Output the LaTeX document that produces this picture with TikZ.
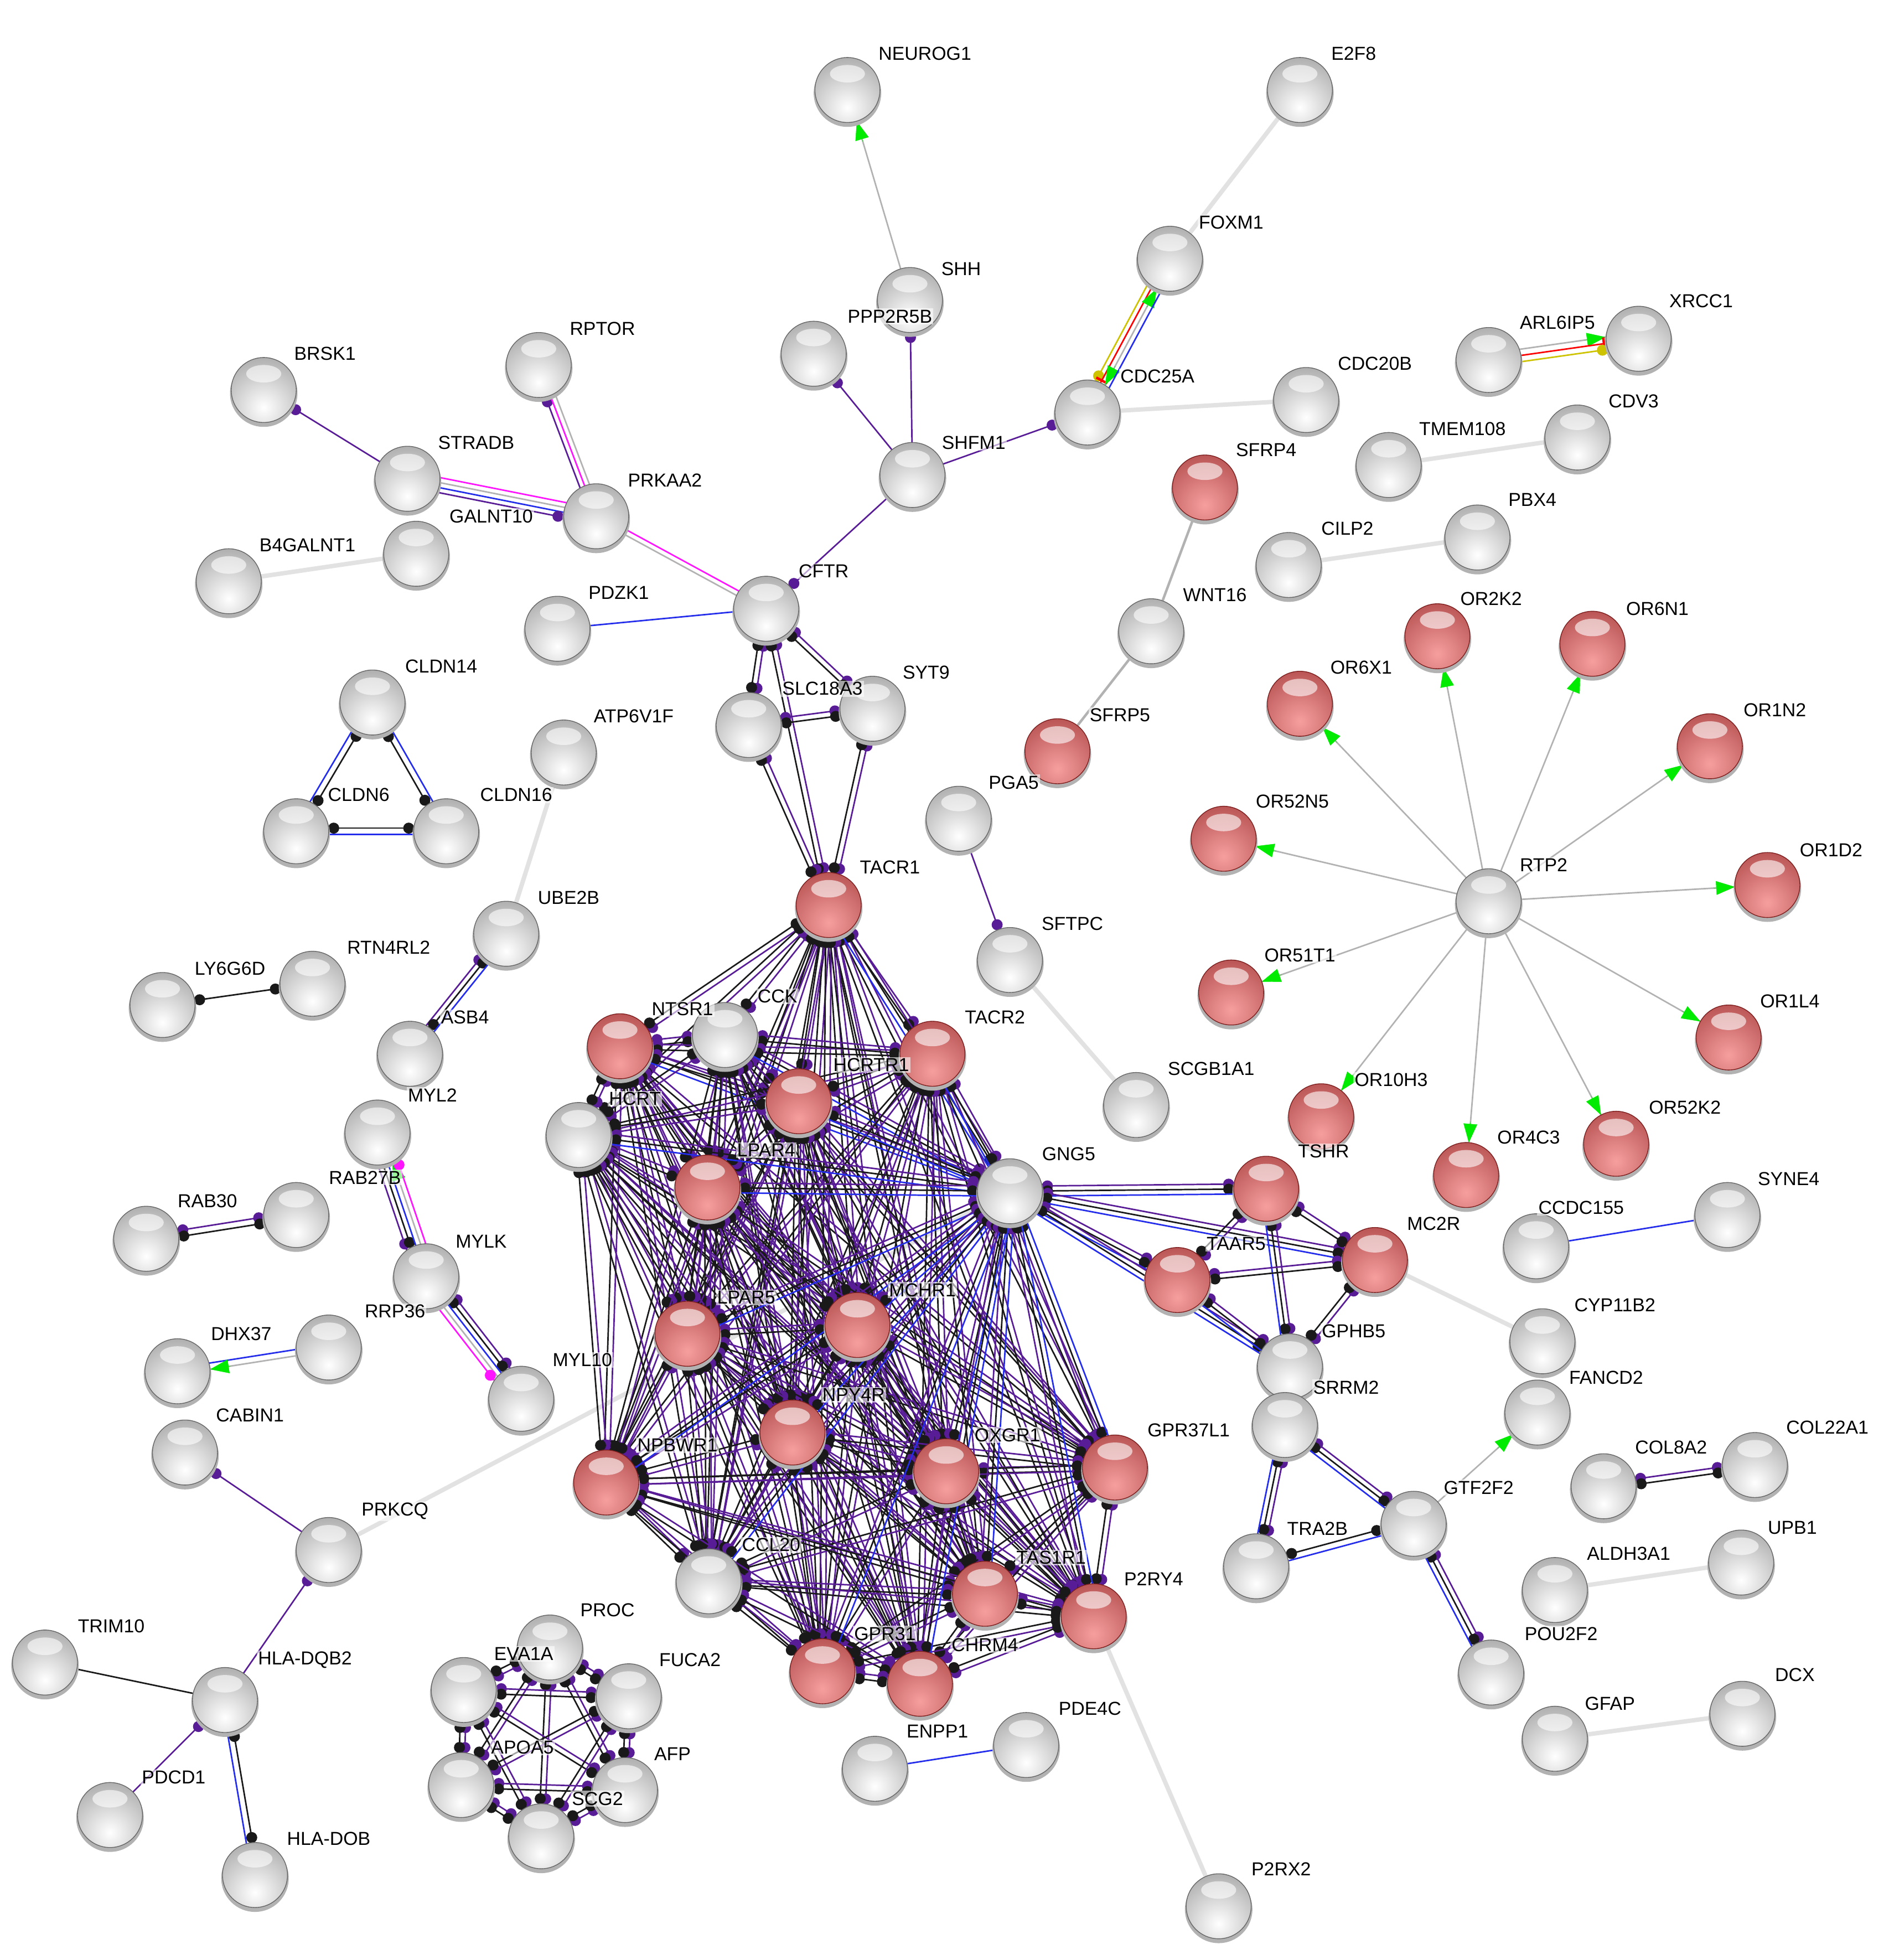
\documentclass[tikz,border=0pt]{standalone}
\usepackage{fontspec}
\setmainfont{Liberation Sans}
\usetikzlibrary{calc,arrows.meta}
\definecolor{cP}{RGB}{88,28,150}
\definecolor{cK}{RGB}{25,25,25}
\definecolor{cB}{RGB}{35,45,235}
\definecolor{cM}{RGB}{255,20,255}
\definecolor{cG}{RGB}{178,178,178}
\definecolor{cL}{RGB}{226,226,226}
\definecolor{cY}{RGB}{205,195,0}
\definecolor{cR}{RGB}{255,0,0}
\definecolor{cGr}{RGB}{0,235,0}
\definecolor{rA}{RGB}{246,158,158}
\definecolor{rF}{RGB}{150,42,42}
\definecolor{rE}{RGB}{125,30,30}
\pgfdeclarelayer{back}
\pgfdeclarelayer{bg}
\pgfdeclarelayer{fg}
\pgfsetlayers{back,bg,main,fg}
\tikzset{
  ball/.style n args={3}{circle, minimum size=52pt, inner sep=0pt, draw=#3, line width=0.6pt, fill=white,
    path picture={\shade[inner color=#1, outer color=#2] ([yshift=-14pt]path picture bounding box.center) circle (64pt);
      \fill[white,opacity=0.6] ([yshift=13pt]path picture bounding box.center) ellipse [x radius=14pt, y radius=7pt];}},
  gball/.style={ball={white}{black!50}{black!60}},
  rball/.style={ball={rA}{rF}{rE}},
  lbl/.style={inner sep=1pt, fill=white, fill opacity=0.6, text opacity=1, font=\fontsize{15}{15}\selectfont}
}
\newcommand\N[7]{\fill[black!30] (#2,#3+2.5) circle (27pt);\node[#4] (#1) at (#2,#3) {};\begin{pgfonlayer}{fg}\node[lbl] (l#1) at (#5,#6) {#7};\end{pgfonlayer}}
\newcommand\mNo[3]{}
\newcommand\mDot[3]{\fill[#3] ($(#1)!30pt!(#2)$) circle (4.4pt);}
\newcommand\mArr[3]{\draw[cGr, line width=0.2pt, -{Triangle[length=15pt,width=11pt]}] ($(#1)!43pt!(#2)$) -- ($(#1)!26pt!(#2)$);}
\newcommand\mBar[3]{\path ($(#1)!28pt!(#2)$) coordinate (mq); \draw[cR, line width=2pt] ($(mq)!5pt!90:(#2)$) -- ($(mq)!5pt!-90:(#2)$);}
\newcommand\Ln[6]{\path ($(#1)!#3pt!90:(#2)$) coordinate (pa) ($(#2)!#3pt!-90:(#1)$) coordinate (pb);
  \draw[#4, line width=1.2pt] (pa) -- (pb); #5{pa}{pb}{#4}#6{pb}{pa}{#4}}
\newcommand\PK[2]{\Ln{#1}{#2}{2.2}{cP}{\mDot}{\mDot}\Ln{#1}{#2}{-2.2}{cK}{\mDot}{\mDot}}
\newcommand\PKB[2]{\Ln{#1}{#2}{4}{cP}{\mDot}{\mDot}\Ln{#1}{#2}{0}{cK}{\mDot}{\mDot}\Ln{#1}{#2}{-4}{cB}{\mNo}{\mNo}}
\newcommand\LG[2]{\draw[cL, line width=3.5pt] (#1) -- (#2);}
\begin{document}
\begin{tikzpicture}[x=1pt,y=-1pt]
\begin{pgfonlayer}{back}
\fill[white] (0,0) rectangle (1515,1568);
\end{pgfonlayer}
\useasboundingbox (0,0) rectangle (1515,1568);
% nodes
\N{NEUROG1}{678}{72}{gball}{740}{43}{NEUROG1}
\N{E2F8}{1040}{72}{gball}{1083}{43}{E2F8}
\N{FOXM1}{936}{207}{gball}{985}{178}{FOXM1}
\N{SHH}{728}{240}{gball}{769}{215}{SHH}
\N{PPP2R5B}{651}{283}{gball}{712}{253}{PPP2R5B}
\N{RPTOR}{431}{292}{gball}{482}{263}{RPTOR}
\N{BRSK1}{211}{312}{gball}{260}{283}{BRSK1}
\N{CDC25A}{870}{330}{gball}{926}{301}{CDC25A}
\N{CDC20B}{1045}{320}{gball}{1100}{291}{CDC20B}
\N{ARL6IP5}{1191}{288}{gball}{1246}{258}{ARL6IP5}
\N{XRCC1}{1311}{271}{gball}{1361}{241}{XRCC1}
\N{CDV3}{1262}{350}{gball}{1307}{321}{CDV3}
\N{TMEM108}{1111}{372}{gball}{1170}{343}{TMEM108}
\N{SHFM1}{730}{380}{gball}{779}{354}{SHFM1}
\N{STRADB}{326}{383}{gball}{381}{354}{STRADB}
\N{PRKAA2}{477}{413}{gball}{532}{384}{PRKAA2}
\N{GALNT10}{333}{443}{gball}{393}{413}{GALNT10}
\N{B4GALNT1}{183}{465}{gball}{246}{436}{B4GALNT1}
\N{SFRP4}{964}{390}{rball}{1013}{360}{SFRP4}
\N{PBX4}{1182}{430}{gball}{1226}{400}{PBX4}
\N{CILP2}{1031}{452}{gball}{1078}{423}{CILP2}
\N{CFTR}{613}{487}{gball}{659}{457}{CFTR}
\N{PDZK1}{446}{503}{gball}{495}{474}{PDZK1}
\N{WNT16}{921}{505}{gball}{972}{476}{WNT16}
\N{OR2K2}{1150}{509}{rball}{1193}{479}{OR2K2}
\N{OR6N1}{1274}{515}{rball}{1326}{487}{OR6N1}
\N{OR6X1}{1040}{563}{rball}{1089}{534}{OR6X1}
\N{CLDN14}{298}{562}{gball}{353}{533}{CLDN14}
\N{SYT9}{698}{567}{gball}{741}{538}{SYT9}
\N{SLC18A3}{599}{580}{gball}{658}{551}{SLC18A3}
\N{ATP6V1F}{451}{602}{gball}{507}{573}{ATP6V1F}
\N{SFRP5}{846}{601}{rball}{896}{572}{SFRP5}
\N{OR1N2}{1368}{597}{rball}{1420}{568}{OR1N2}
\N{CLDN6}{237}{665}{gball}{287}{636}{CLDN6}
\N{CLDN16}{357}{665}{gball}{413}{636}{CLDN16}
\N{PGA5}{767}{655}{gball}{811}{626}{PGA5}
\N{OR52N5}{979}{671}{rball}{1034}{641}{OR52N5}
\N{RTP2}{1191}{721}{gball}{1235}{692}{RTP2}
\N{OR1D2}{1414}{708}{rball}{1465}{680}{OR1D2}
\N{TACR1}{663}{724}{rball}{712}{694}{TACR1}
\N{UBE2B}{405}{747}{gball}{455}{718}{UBE2B}
\N{RTN4RL2}{250}{787}{gball}{311}{758}{RTN4RL2}
\N{LY6G6D}{130}{804}{gball}{184}{775}{LY6G6D}
\N{SFTPC}{808}{768}{gball}{858}{739}{SFTPC}
\N{OR51T1}{985}{794}{rball}{1040}{764}{OR51T1}
\N{OR1L4}{1383}{830}{rball}{1432}{801}{OR1L4}
\N{ASB4}{328}{843}{gball}{372}{814}{ASB4}
\N{NTSR1}{496}{837}{rball}{546}{807}{NTSR1}
\N{CCK}{580}{828}{gball}{622}{797}{CCK}
\N{TACR2}{746}{843}{rball}{796}{814}{TACR2}
\N{HCRTR1}{639}{881}{rball}{697}{852}{HCRTR1}
\N{MYL2}{302}{906}{gball}{346}{876}{MYL2}
\N{HCRT}{463}{908}{gball}{508}{879}{HCRT}
\N{SCGB1A1}{909}{884}{gball}{969}{855}{SCGB1A1}
\N{OR10H3}{1057}{893}{rball}{1113}{864}{OR10H3}
\N{OR52K2}{1293}{915}{rball}{1348}{886}{OR52K2}
\N{OR4C3}{1173}{940}{rball}{1223}{910}{OR4C3}
\N{LPAR4}{566}{950}{rball}{613}{920}{LPAR4}
\N{GNG5}{808}{953}{gball}{855}{923}{GNG5}
\N{TSHR}{1013}{951}{rball}{1059}{921}{TSHR}
\N{RAB27B}{237}{972}{gball}{292}{942}{RAB27B}
\N{RAB30}{117}{991}{gball}{166}{961}{RAB30}
\N{SYNE4}{1382}{972}{gball}{1431}{943}{SYNE4}
\N{CCDC155}{1229}{997}{gball}{1265}{966}{CCDC155}
\N{TAAR5}{942}{1024}{rball}{989}{995}{TAAR5}
\N{MC2R}{1100}{1008}{rball}{1147}{979}{MC2R}
\N{MYLK}{341}{1021}{gball}{385}{993}{MYLK}
\N{LPAR5}{550}{1067}{rball}{597}{1038}{LPAR5}
\N{MCHR1}{686}{1060}{rball}{738}{1032}{MCHR1}
\N{CYP11B2}{1234}{1073}{gball}{1292}{1044}{CYP11B2}
\N{RRP36}{263}{1078}{gball}{316}{1049}{RRP36}
\N{DHX37}{142}{1097}{gball}{193}{1067}{DHX37}
\N{GPHB5}{1032}{1093}{gball}{1083}{1065}{GPHB5}
\N{MYL10}{417}{1119}{gball}{466}{1088}{MYL10}
\N{FANCD2}{1230}{1130}{gball}{1285}{1102}{FANCD2}
\N{SRRM2}{1028}{1140}{gball}{1077}{1110}{SRRM2}
\N{NPY4R}{634}{1146}{rball}{683}{1116}{NPY4R}
\N{CABIN1}{148}{1162}{gball}{200}{1132}{CABIN1}
\N{GPR37L1}{892}{1174}{rball}{951}{1144}{GPR37L1}
\N{COL22A1}{1404}{1172}{gball}{1462}{1142}{COL22A1}
\N{OXGR1}{757}{1177}{rball}{806}{1148}{OXGR1}
\N{NPBWR1}{485}{1186}{rball}{542}{1156}{NPBWR1}
\N{COL8A2}{1283}{1189}{gball}{1337}{1158}{COL8A2}
\N{GTF2F2}{1131}{1219}{gball}{1183}{1190}{GTF2F2}
\N{PRKCQ}{263}{1240}{gball}{316}{1209}{PRKCQ}
\N{UPB1}{1393}{1250}{gball}{1434}{1222}{UPB1}
\N{TRA2B}{1005}{1253}{gball}{1054}{1223}{TRA2B}
\N{CCL20}{567}{1265}{gball}{617}{1236}{CCL20}
\N{ALDH3A1}{1244}{1272}{gball}{1303}{1243}{ALDH3A1}
\N{TAS1R1}{788}{1275}{rball}{841}{1246}{TAS1R1}
\N{P2RY4}{875}{1293}{rball}{923}{1263}{P2RY4}
\N{GPR31}{658}{1337}{rball}{708}{1307}{GPR31}
\N{CHRM4}{736}{1347}{rball}{788}{1316}{CHRM4}
\N{POU2F2}{1193}{1338}{gball}{1249}{1307}{POU2F2}
\N{PROC}{440}{1318}{gball}{486}{1288}{PROC}
\N{TRIM10}{36}{1330}{gball}{89}{1301}{TRIM10}
\N{EVA1A}{371}{1352}{gball}{419}{1323}{EVA1A}
\N{FUCA2}{503}{1357}{gball}{552}{1328}{FUCA2}
\N{HLADQB2}{180}{1360}{gball}{244}{1328}{HLA-DQB2}
\N{DCX}{1394}{1371}{gball}{1436}{1340}{DCX}
\N{GFAP}{1244}{1391}{gball}{1288}{1363}{GFAP}
\N{PDE4C}{821}{1396}{gball}{872}{1367}{PDE4C}
\N{ENPP1}{700}{1415}{gball}{750}{1385}{ENPP1}
\N{APOA5}{369}{1428}{gball}{418}{1398}{APOA5}
\N{AFP}{500}{1432}{gball}{538}{1403}{AFP}
\N{PDCD1}{88}{1452}{gball}{139}{1422}{PDCD1}
\N{SCG2}{433}{1469}{gball}{478}{1439}{SCG2}
\N{HLADOB}{204}{1500}{gball}{263}{1471}{HLA-DOB}
\N{P2RX2}{975}{1525}{gball}{1025}{1495}{P2RX2}
% edges
\begin{pgfonlayer}{bg}
\LG{E2F8}{FOXM1}\LG{CDC25A}{CDC20B}\LG{TMEM108}{CDV3}\LG{CILP2}{PBX4}
\LG{B4GALNT1}{GALNT10}\LG{UBE2B}{ATP6V1F}\LG{PRKCQ}{GNG5}\LG{SFTPC}{SCGB1A1}
\LG{P2RY4}{P2RX2}\LG{MC2R}{CYP11B2}\LG{ALDH3A1}{UPB1}\LG{GFAP}{DCX}
\draw[cG, line width=2pt] (SFRP4) -- (WNT16) -- (SFRP5);
\Ln{SHH}{NEUROG1}{0}{cG}{\mNo}{\mArr}
\Ln{FOXM1}{CDC25A}{-6}{cY}{\mNo}{\mDot}
\Ln{FOXM1}{CDC25A}{-2}{cR}{\mNo}{\mBar}
\Ln{FOXM1}{CDC25A}{2}{cG}{\mArr}{\mArr}
\Ln{FOXM1}{CDC25A}{6}{cB}{\mNo}{\mNo}
\Ln{SHFM1}{CDC25A}{0}{cP}{\mNo}{\mDot}
\Ln{SHFM1}{SHH}{0}{cP}{\mNo}{\mDot}
\Ln{SHFM1}{PPP2R5B}{0}{cP}{\mNo}{\mDot}
\Ln{SHFM1}{CFTR}{0}{cP}{\mNo}{\mDot}
\Ln{ARL6IP5}{XRCC1}{5}{cG}{\mNo}{\mArr}
\Ln{ARL6IP5}{XRCC1}{0}{cR}{\mNo}{\mBar}
\Ln{ARL6IP5}{XRCC1}{-5}{cY}{\mNo}{\mDot}
\foreach \o in {OR2K2,OR6N1,OR6X1,OR1N2,OR52N5,OR1D2,OR51T1,OR1L4,OR10H3,OR4C3,OR52K2}{\Ln{RTP2}{\o}{0}{cG}{\mNo}{\mArr}}
\Ln{STRADB}{BRSK1}{0}{cP}{\mNo}{\mDot}
\Ln{STRADB}{PRKAA2}{6}{cM}{\mNo}{\mNo}
\Ln{STRADB}{PRKAA2}{2}{cG}{\mNo}{\mNo}
\Ln{STRADB}{PRKAA2}{-2}{cB}{\mNo}{\mNo}
\Ln{STRADB}{PRKAA2}{-6}{cP}{\mNo}{\mDot}
\Ln{RPTOR}{PRKAA2}{-4}{cP}{\mDot}{\mNo}
\Ln{RPTOR}{PRKAA2}{0}{cM}{\mNo}{\mNo}
\Ln{RPTOR}{PRKAA2}{4}{cG}{\mNo}{\mNo}
\Ln{PRKAA2}{CFTR}{2}{cM}{\mNo}{\mNo}
\Ln{PRKAA2}{CFTR}{-2}{cG}{\mNo}{\mNo}
\Ln{PDZK1}{CFTR}{0}{cB}{\mNo}{\mNo}
\PK{CFTR}{SLC18A3}\PK{CFTR}{TACR1}\PK{CFTR}{SYT9}\PK{SLC18A3}{SYT9}\PK{SLC18A3}{TACR1}\PK{SYT9}{TACR1}
\Ln{CLDN6}{CLDN16}{-2.5}{cB}{\mNo}{\mNo}\Ln{CLDN6}{CLDN16}{2.5}{cK}{\mDot}{\mDot}
\Ln{CLDN14}{CLDN6}{-2.5}{cB}{\mNo}{\mNo}\Ln{CLDN14}{CLDN6}{2.5}{cK}{\mDot}{\mDot}
\Ln{CLDN14}{CLDN16}{2.5}{cB}{\mNo}{\mNo}\Ln{CLDN14}{CLDN16}{-2.5}{cK}{\mDot}{\mDot}
\Ln{UBE2B}{ASB4}{-4}{cP}{\mDot}{\mNo}
\Ln{UBE2B}{ASB4}{0}{cK}{\mDot}{\mDot}
\Ln{UBE2B}{ASB4}{4}{cB}{\mNo}{\mNo}
\Ln{LY6G6D}{RTN4RL2}{0}{cK}{\mDot}{\mDot}
\Ln{RAB30}{RAB27B}{2.5}{cP}{\mDot}{\mDot}\Ln{RAB30}{RAB27B}{-2.5}{cK}{\mDot}{\mDot}
\Ln{MYL2}{MYLK}{-8}{cP}{\mNo}{\mDot}
\Ln{MYL2}{MYLK}{-4}{cK}{\mNo}{\mDot}
\Ln{MYL2}{MYLK}{0}{cB}{\mNo}{\mNo}
\Ln{MYL2}{MYLK}{4}{cG}{\mArr}{\mNo}
\Ln{MYL2}{MYLK}{8}{cM}{\mDot}{\mNo}
\Ln{MYLK}{MYL10}{8}{cP}{\mDot}{\mDot}
\Ln{MYLK}{MYL10}{4}{cK}{\mDot}{\mDot}
\Ln{MYLK}{MYL10}{0}{cB}{\mNo}{\mNo}
\Ln{MYLK}{MYL10}{-4}{cG}{\mNo}{\mNo}
\Ln{MYLK}{MYL10}{-8}{cM}{\mNo}{\mDot}
\Ln{RRP36}{DHX37}{-2.5}{cB}{\mNo}{\mNo}
\Ln{RRP36}{DHX37}{2.5}{cG}{\mNo}{\mArr}
\Ln{PRKCQ}{CABIN1}{0}{cP}{\mNo}{\mDot}
\Ln{HLADQB2}{PRKCQ}{0}{cP}{\mNo}{\mDot}
\Ln{TRIM10}{HLADQB2}{0}{cK}{\mNo}{\mNo}
\Ln{PDCD1}{HLADQB2}{0}{cP}{\mNo}{\mDot}
\Ln{HLADQB2}{HLADOB}{-2.5}{cB}{\mNo}{\mNo}\Ln{HLADQB2}{HLADOB}{2.5}{cK}{\mDot}{\mDot}
\Ln{PGA5}{SFTPC}{0}{cP}{\mNo}{\mDot}
\Ln{ENPP1}{PDE4C}{0}{cB}{\mNo}{\mNo}
\Ln{CCDC155}{SYNE4}{0}{cB}{\mNo}{\mNo}
\Ln{GTF2F2}{FANCD2}{0}{cG}{\mNo}{\mArr}
\PK{COL8A2}{COL22A1}
\PKB{SRRM2}{TRA2B}\PKB{SRRM2}{GTF2F2}\PKB{GTF2F2}{POU2F2}
\Ln{TRA2B}{GTF2F2}{2.5}{cK}{\mDot}{\mDot}\Ln{TRA2B}{GTF2F2}{-2.5}{cB}{\mNo}{\mNo}
\PKB{GNG5}{TSHR}\PKB{GNG5}{TAAR5}\PKB{GNG5}{MC2R}\PKB{GNG5}{GPHB5}
\PK{TSHR}{TAAR5}\PK{TSHR}{MC2R}\PKB{TSHR}{GPHB5}\PK{TAAR5}{MC2R}\PKB{TAAR5}{GPHB5}\PK{MC2R}{GPHB5}
\foreach \a [count=\i] in {PROC,EVA1A,FUCA2,APOA5,AFP,SCG2}{
  \foreach \b [count=\j] in {PROC,EVA1A,FUCA2,APOA5,AFP,SCG2}{\ifnum\j>\i\relax\PK{\a}{\b}\fi}}
\foreach \a [count=\i] in {TACR1,NTSR1,CCK,TACR2,HCRTR1,HCRT,LPAR4,LPAR5,MCHR1,NPY4R,OXGR1,GPR37L1,NPBWR1,CCL20,TAS1R1,P2RY4,GPR31,CHRM4}{
  \foreach \b [count=\j] in {TACR1,NTSR1,CCK,TACR2,HCRTR1,HCRT,LPAR4,LPAR5,MCHR1,NPY4R,OXGR1,GPR37L1,NPBWR1,CCL20,TAS1R1,P2RY4,GPR31,CHRM4}{\ifnum\j>\i\relax\PK{\a}{\b}\fi}
  \PKB{\a}{GNG5}}
\end{pgfonlayer}
\end{tikzpicture}
\end{document}
